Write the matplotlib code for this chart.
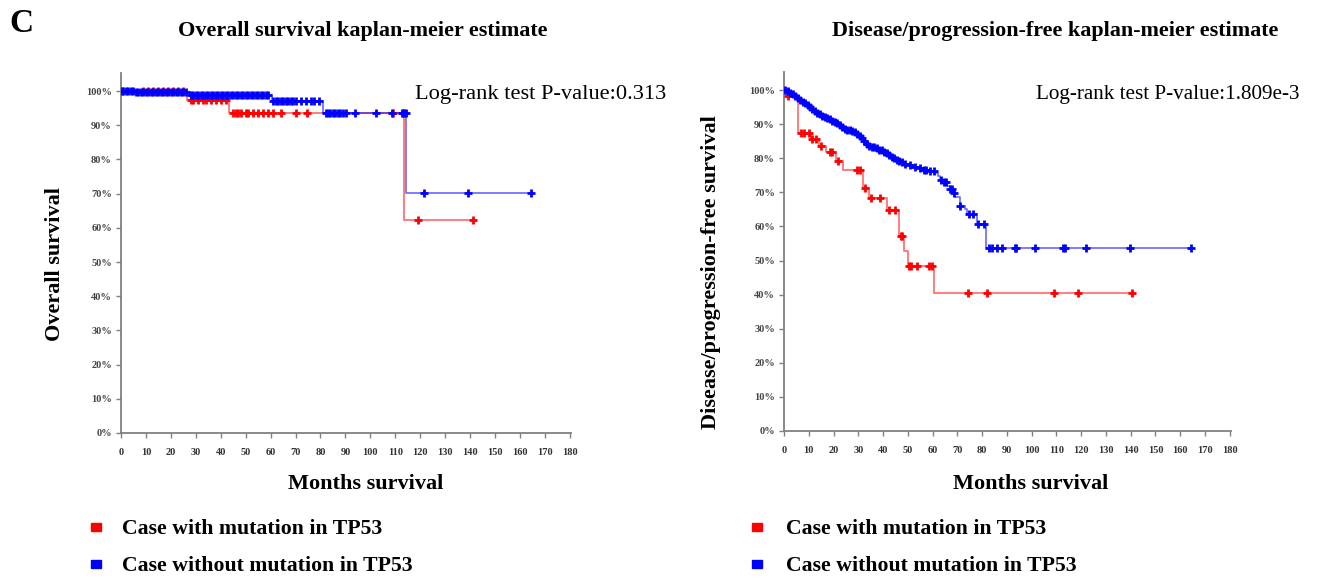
import numpy as np
import matplotlib
matplotlib.use("Agg")
import matplotlib.pyplot as plt

plt.rcParams['font.family'] = ['Liberation Serif', 'DejaVu Serif']

W, H = 1324, 583
RED = '#ff0000'
BLUE = '#0000ff'

# ---- overall survival (left) ----
os_mut_t = [0, 26.3, 43.3, 113.5]
os_mut_s = [1.0, 0.974, 0.936, 0.623]
os_mut_cens = [9, 11, 13, 15, 17, 19, 21, 23, 25, 28, 29, 31, 33, 34, 36, 38, 40, 42,
               45, 46, 47, 48, 50, 51, 53, 55, 57, 59, 61, 64, 70, 74.5, 109, 113, 119, 141]

os_wt_t = [0, 6, 27.6, 60.4, 81, 114.5]
os_wt_s = [1.0, 0.996, 0.988, 0.972, 0.935, 0.702]
os_wt_cens = [0.5, 1, 2, 3, 4, 5, 6, 7, 8, 9, 10, 11, 12, 13, 14, 15, 16, 17, 18, 19, 20,
              21, 22, 23, 24, 25, 26, 28, 29, 30, 31, 32, 33, 34, 35, 36, 37, 38, 39, 40,
              41, 42, 43, 44, 45, 46, 47, 48, 49, 50, 51, 52, 53, 54, 55, 56, 57, 58, 59,
              61, 62, 63, 64, 65, 66, 67, 68, 69, 70, 72.3, 74.3, 76.3, 77.6, 79.6,
              82.3, 83, 84, 85, 86, 87, 88, 89, 90.3, 94, 102.3, 108.9, 112.8, 113.5, 114.3,
              121.6, 139, 164.5]

# ---- disease/progression-free survival (right) ----
dfs_mut_t = [0, 1, 5.5, 11, 14, 17, 21, 24, 32, 34.5, 41.5, 46.5, 48.5, 50, 60.7]
dfs_mut_s = [1.0, 0.982, 0.875, 0.857, 0.836, 0.817, 0.792, 0.766, 0.712, 0.683,
             0.648, 0.573, 0.529, 0.485, 0.404]
dfs_mut_cens = [1.6, 7, 8, 10, 11.5, 13, 15, 18.4, 19.5, 22, 29.6, 30.5, 32.6, 35.3, 38.8,
                42.5, 45, 47.4, 47.8, 50.6, 51.2, 53.8, 58.5, 59.8, 74.5, 81.9, 109, 118.8, 140.7]

dfs_wt_t = [0, 1, 2, 3, 4, 5, 6, 7, 8, 9, 10, 11, 12, 13, 14, 15, 16, 17, 18, 19, 20, 21,
            22, 23, 24, 25, 27, 28, 29, 30, 31, 32, 33, 34, 35, 37, 38, 40, 41, 42, 43, 44,
            45, 46, 47, 48, 50, 52, 54, 56, 58, 61, 62, 63, 64, 66, 67, 68, 69, 71, 73, 74,
            78, 81.5]
dfs_wt_s = [1.0, 0.996, 0.992, 0.988, 0.983, 0.978, 0.972, 0.966, 0.961, 0.956, 0.950,
            0.945, 0.939, 0.934, 0.929, 0.925, 0.922, 0.918, 0.914, 0.910, 0.906, 0.902,
            0.898, 0.892, 0.887, 0.884, 0.881, 0.877, 0.872, 0.866, 0.858, 0.850, 0.843,
            0.836, 0.832, 0.829, 0.824, 0.819, 0.815, 0.811, 0.805, 0.800, 0.796, 0.792,
            0.788, 0.784, 0.779, 0.775, 0.771, 0.767, 0.762, 0.757, 0.748, 0.735, 0.729,
            0.718, 0.710, 0.698, 0.687, 0.661, 0.650, 0.636, 0.607, 0.537]
dfs_wt_cens = [0.5, 1.5, 2.5, 3.5, 4.5, 5.5, 6.5, 7.5, 8.5, 9.5, 10.5, 11.5, 12.5, 13.5,
               14.5, 15.5, 16.5, 17.5, 18.5, 19.5, 20.5, 21.5, 22.5, 23.5, 24.5, 25.5, 26.5,
               27.5, 28.5, 29.5, 30.5, 31.5, 32.5, 33.5, 34.5, 35.5, 36.5, 37.5, 38.5, 39.5,
               40.5, 41.5, 42.5, 43.5, 44.5, 45.5, 46.5, 47.5, 49, 51, 53, 55, 56.5, 57.5,
               59, 60.5, 63.2, 64.5, 65.5, 67.2, 67.8, 68.5, 71.2, 74.8, 76.5, 78.5, 80.6,
               82.6, 84, 86, 88, 93.4, 93.8, 101.4, 112.8, 113.5, 121.8, 139.7, 164.5]

x_ticks = list(range(0, 181, 10))
y_ticks = [i / 10 for i in range(11)]
y_labels = ['%d%%' % (i * 10) for i in range(11)]
legend_labels = ['Case with mutation in TP53', 'Case without mutation in TP53']


def px(x, y):
    return x / W, 1 - y / H


def km(ax, t, s, cens, color):
    t = np.array(t, float)
    s = np.array(s, float)
    cens = np.array(cens, float)
    end = max(cens.max(), t.max())
    tt = np.append(t, end)
    ss = np.append(s, s[-1])
    ax.step(tt, ss, where='post', color=color, lw=1.3, alpha=0.55, zorder=2)
    idx = np.searchsorted(t, cens, side='right') - 1
    ax.plot(cens, s[idx], ls='none', marker='+', ms=5.5, mew=2, color=color, zorder=3)


def style(ax):
    ax.set_xlim(0, 180.5)
    ax.set_ylim(0, 1.053)
    for side in ['top', 'right']:
        ax.spines[side].set_visible(False)
    for side in ['left', 'bottom']:
        ax.spines[side].set_color('#808080')
        ax.spines[side].set_linewidth(1.3)
    ax.set_xticks(x_ticks)
    ax.set_xticklabels([str(v) for v in x_ticks], fontsize=7.5, fontweight='bold', color='#333333')
    ax.set_yticks(y_ticks)
    ax.set_yticklabels(y_labels, fontsize=7.5, fontweight='bold', color='#444444')
    ax.tick_params(direction='out', length=3.5, width=1, color='#808080', pad=3)
    ax.tick_params(axis='x', pad=7)


fig = plt.figure(figsize=(W / 100, H / 100), dpi=100)

ax1 = fig.add_axes([121 / W, 1 - 433 / H, 450 / W, 360 / H])
km(ax1, os_mut_t, os_mut_s, os_mut_cens, RED)
km(ax1, os_wt_t, os_wt_s, os_wt_cens, BLUE)
style(ax1)

ax2 = fig.add_axes([784 / W, 1 - 431 / H, 447 / W, 359 / H])
km(ax2, dfs_mut_t, dfs_mut_s, dfs_mut_cens, RED)
km(ax2, dfs_wt_t, dfs_wt_s, dfs_wt_cens, BLUE)
style(ax2)

# text
fig.text(*px(9, 23), 'C', fontsize=24, fontweight='bold', va='center', ha='left')
fig.text(*px(363, 31), 'Overall survival kaplan-meier estimate', fontsize=15.9,
         fontweight='bold', ha='center', va='center')
fig.text(*px(1055, 31), 'Disease/progression-free kaplan-meier estimate', fontsize=15.9,
         fontweight='bold', ha='center', va='center')
fig.text(*px(415, 94), 'Log-rank test P-value:0.313', fontsize=16.1, ha='left', va='center')
fig.text(*px(1036, 94), 'Log-rank test P-value:1.809e-3', fontsize=15.2, ha='left', va='center')
fig.text(*px(366, 484), 'Months survival', fontsize=16, fontweight='bold',
         ha='center', va='center')
fig.text(*px(1031, 484), 'Months survival', fontsize=16, fontweight='bold',
         ha='center', va='center')
fig.text(*px(55, 264), 'Overall survival', fontsize=16, fontweight='bold',
         ha='center', va='center', rotation=90)
fig.text(*px(711, 272), 'Disease/progression-free survival', fontsize=16,
         fontweight='bold', ha='center', va='center', rotation=90)

# legends
for x_sq, x_txt in [(96, 122), (757, 786)]:
    for (y, col, lab) in [(527, RED, legend_labels[0]), (564, BLUE, legend_labels[1])]:
        fig.patches.append(plt.Rectangle(px(x_sq - 5, y + 4), 10 / W, 8 / H,
                                         transform=fig.transFigure, color=col))
        fig.text(*px(x_txt, y + 2), lab, fontsize=15.7, fontweight='bold',
                 ha='left', va='center')

fig.savefig('out.png', dpi=100)
